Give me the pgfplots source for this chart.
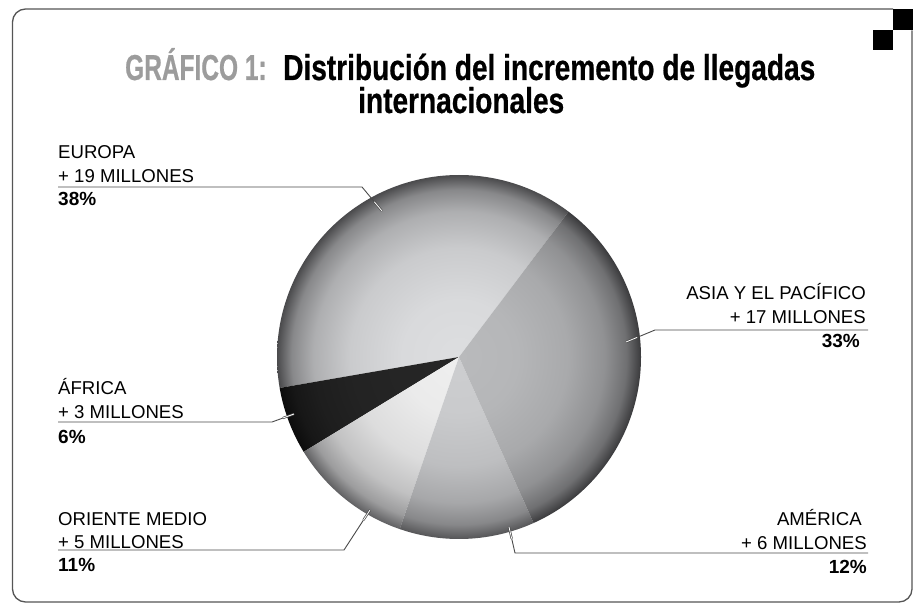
\documentclass[border=0pt]{standalone}
\usepackage{pgfplots}
\pgfplotsset{compat=1.18}
\usepackage{pgfplotstable}
\usetikzlibrary{calc}
\usepackage{fontspec}
\setmainfont{Liberation Sans}
\newfontfamily\capsfont{Liberation Sans}[FakeStretch=0.68,FakeBold=0.6]
\newfontfamily\titlefont{Liberation Sans}[FakeStretch=0.78,FakeBold=0.6]
\newfontfamily\labfont{Liberation Sans}

\definecolor{eurIn}{HTML}{DDDEE0}\definecolor{eurOut}{HTML}{4A4A4C}
\definecolor{afrIn}{HTML}{262626}\definecolor{afrOut}{HTML}{0C0C0C}
\definecolor{oriIn}{HTML}{EFEFEF}\definecolor{oriOut}{HTML}{606062}
\definecolor{ameIn}{HTML}{CDCED0}\definecolor{ameOut}{HTML}{555557}
\definecolor{asiIn}{HTML}{B9BABC}\definecolor{asiOut}{HTML}{3A3A3C}
\definecolor{leader}{HTML}{4A4A4A}
\definecolor{titlegray}{HTML}{9C9C9C}
\definecolor{framegray}{HTML}{555555}

\makeatletter
\pgfdeclareradialshading[tikz@radial@inner,tikz@radial@outer]{pieball}{\pgfpointorigin}{%
 color(0bp)=(tikz@radial@inner);
 color(8bp)=(tikz@radial@inner!97!tikz@radial@outer);
 color(15bp)=(tikz@radial@inner!87!tikz@radial@outer);
 color(20bp)=(tikz@radial@inner!68!tikz@radial@outer);
 color(23bp)=(tikz@radial@inner!42!tikz@radial@outer);
 color(25bp)=(tikz@radial@outer);
 color(50bp)=(tikz@radial@outer)}
\makeatother

% share of the increase of international arrivals (percent, millions)
\pgfplotstableread{
region  pct mill
Europa  38  19
Africa  6   3
Oriente 11  5
America 12  6
Asia    33  17
}\pietable

\newcommand\getpct[2]{\pgfplotstablegetelem{#1}{pct}\of\pietable\global\let#2\pgfplotsretval}
\getpct{0}\pA \getpct{1}\pB \getpct{2}\pC \getpct{3}\pD \getpct{4}\pE
\pgfmathsetmacro\aA{53}
\pgfmathsetmacro\aB{\aA+3.6*\pA}
\pgfmathsetmacro\aC{\aB+3.6*\pB}
\pgfmathsetmacro\aD{\aC+3.6*\pC}
\pgfmathsetmacro\aE{\aD+3.6*\pD}
\pgfmathsetmacro\aF{\aE+3.6*\pE}

\def\R{182pt}
\newcommand\slice[4]{%
 \begin{scope}
 \clip (axis cs:0,0) -- ++(#1:\R) arc[start angle=#1,end angle=#2,radius=\R] -- cycle;
 \shade[inner color=#3, outer color=#4, shading=pieball] (axis cs:0,0) circle[radius=\R];
 \end{scope}}

\newcommand\lab[1]{\fontsize{18.6}{23}\labfont #1}
\newcommand\labb[1]{\fontsize{19}{23}\labfont\bfseries #1}

\begin{document}
\begin{tikzpicture}
\useasboundingbox (0pt,0pt) rectangle (917pt,606pt);

\begin{axis}[hide axis, scale only axis, width=364pt, height=364pt,
  xmin=-1, xmax=1, ymin=-1, ymax=1, clip=false,
  at={(459pt,249pt)}, anchor=center]
\slice{\aA}{\aB}{eurIn}{eurOut}
\slice{\aB}{\aC}{afrIn}{afrOut}
\slice{\aC}{\aD}{oriIn}{oriOut}
\slice{\aD}{\aE}{ameIn}{ameOut}
\slice{\aE}{\aF}{asiIn}{asiOut}
\end{axis}

\begin{scope}[x=1pt, y=-1pt, yshift=606pt]
% frame
\draw[framegray, line width=1.3pt, rounded corners=13pt]
  (893,9) -- (12.5,9) -- (12.5,602) -- (912,602) -- (912,30.5);
\fill[black] (893,9) rectangle (913,30);
\fill[black] (873,30) rectangle (893,50);

% title
\node[anchor=base west, inner sep=0pt] at (125,80)
  {\fontsize{36}{40}\capsfont\bfseries\color{titlegray}GRÁFICO 1:};
\node[anchor=base west, inner sep=0pt] at (283,80)
  {\fontsize{36}{40}\titlefont\bfseries Distribución del incremento de llegadas};
\node[anchor=base west, inner sep=0pt] at (358,113)
  {\fontsize{36}{40}\titlefont\bfseries internacionales};

% leaders
\draw[leader, line width=0.9pt] (58,187) -- (362,187) -- (382,211);
\draw[leader, line width=0.9pt] (868,330) -- (655,330) -- (626,342);
\draw[leader, line width=0.9pt] (58,422) -- (272,422) -- (294,414);
\draw[leader, line width=0.9pt] (58,550) -- (344,550) -- (370,510);
\draw[leader, line width=0.9pt] (868,553) -- (515,553) -- (509,527);
\foreach \tx/\ty/\cx/\cy in {382/211/362/187, 626/342/655/330, 294/414/272/422, 370/510/344/550, 509/527/515/553}{
  \draw[leader, line width=2.2pt] (\tx,\ty) -- ($(\tx,\ty)!12pt!(\cx,\cy)$);
  \draw[white, line width=0.8pt] (\tx,\ty) -- ($(\tx,\ty)!12pt!(\cx,\cy)$);
}

% labels
\node[anchor=base west, inner sep=0pt] at (58,159) {\lab{EUROPA}};
\node[anchor=base west, inner sep=0pt] at (58,183) {\lab{+ 19 MILLONES}};
\node[anchor=base west, inner sep=0pt] at (58,206) {\labb{38\%}};

\node[anchor=base east, inner sep=0pt] at (866,299) {\lab{ASIA Y EL PACÍFICO}};
\node[anchor=base east, inner sep=0pt] at (866,323) {\lab{+ 17 MILLONES}};
\node[anchor=base east, inner sep=0pt] at (860,347) {\labb{33\%}};

\node[anchor=base west, inner sep=0pt] at (58,394) {\lab{ÁFRICA}};
\node[anchor=base west, inner sep=0pt] at (58,418) {\lab{+ 3 MILLONES}};
\node[anchor=base west, inner sep=0pt] at (58,443) {\labb{6\%}};

\node[anchor=base west, inner sep=0pt] at (58,525) {\lab{ORIENTE MEDIO}};
\node[anchor=base west, inner sep=0pt] at (58,548) {\lab{+ 5 MILLONES}};
\node[anchor=base west, inner sep=0pt] at (58,571) {\labb{11\%}};

\node[anchor=base east, inner sep=0pt] at (862,525) {\lab{AMÉRICA}};
\node[anchor=base east, inner sep=0pt] at (867,549) {\lab{+ 6 MILLONES}};
\node[anchor=base east, inner sep=0pt] at (867,573) {\labb{12\%}};
\end{scope}
\end{tikzpicture}
\end{document}
